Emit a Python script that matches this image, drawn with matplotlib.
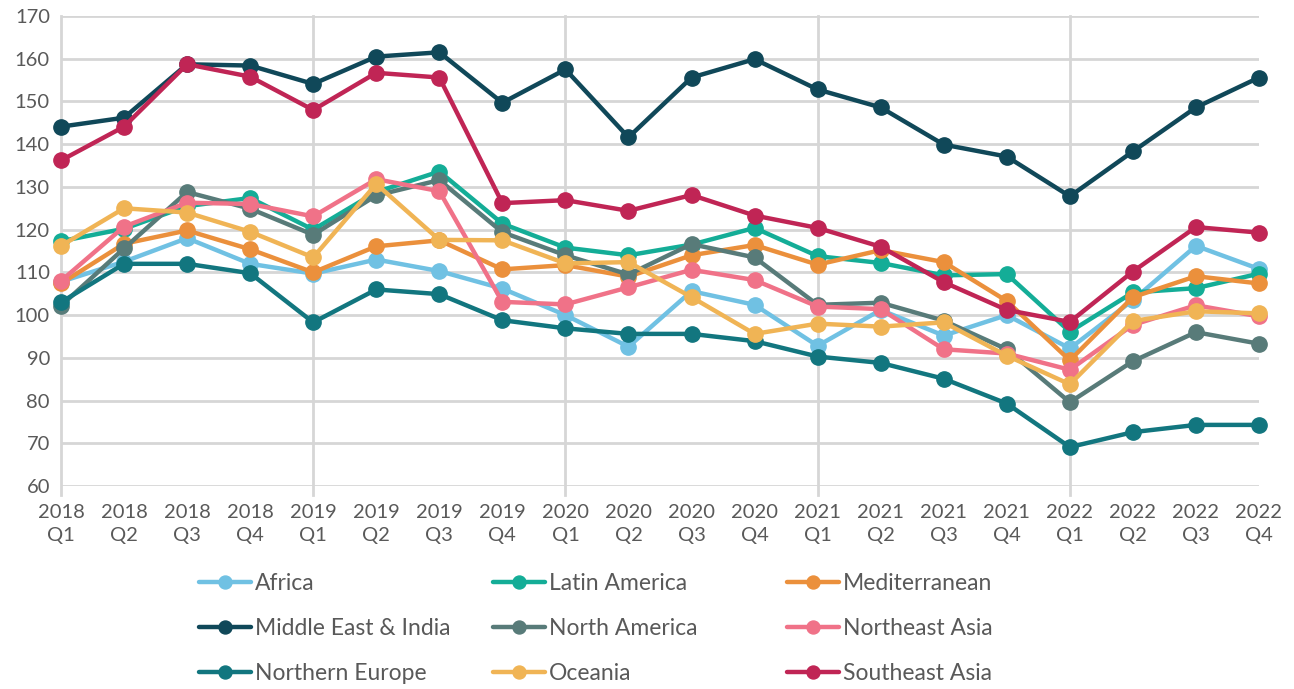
import matplotlib
matplotlib.use("Agg")
import matplotlib.pyplot as plt
import numpy as np

plt.rcParams['font.family'] = ['Lato', 'DejaVu Sans']

quarters = ['2018\nQ1', '2018\nQ2', '2018\nQ3', '2018\nQ4',
            '2019\nQ1', '2019\nQ2', '2019\nQ3', '2019\nQ4',
            '2020\nQ1', '2020\nQ2', '2020\nQ3', '2020\nQ4',
            '2021\nQ1', '2021\nQ2', '2021\nQ3', '2021\nQ4',
            '2022\nQ1', '2022\nQ2', '2022\nQ3', '2022\nQ4']

africa = [107.8, 112.5, 118.0, 112.0, 109.7, 113.0, 110.3, 106.2, 100.0, 92.6,
          105.6, 102.4, 92.8, 101.2, 95.2, 100.0, 92.2, 103.5, 116.2, 110.8]
latin_america = [117.3, 120.2, 125.5, 127.4, 120.0, 128.8, 133.6, 121.4, 115.8, 114.0,
                 116.5, 120.4, 113.8, 112.2, 109.3, 109.6, 96.1, 105.3, 106.3, 109.7]
mediterranean = [107.4, 116.7, 119.8, 115.4, 110.0, 116.1, 117.5, 110.7, 111.7, 109.0,
                 114.0, 116.4, 111.8, 115.2, 112.4, 103.3, 89.4, 104.2, 109.1, 107.4]
middle_east = [144.1, 146.2, 158.7, 158.4, 154.1, 160.5, 161.5, 149.7, 157.5, 141.6,
               155.6, 159.9, 152.8, 148.6, 139.9, 137.1, 127.8, 138.3, 148.6, 155.6]
north_america = [102.2, 115.6, 128.8, 124.9, 118.8, 128.0, 131.6, 119.4, 114.0, 109.5,
                 116.6, 113.5, 102.4, 102.9, 98.7, 92.0, 79.6, 89.2, 96.0, 93.3]
northeast_asia = [108.0, 120.7, 126.3, 126.0, 123.1, 131.8, 129.0, 103.1, 102.5, 106.5,
                  110.6, 108.2, 102.0, 101.4, 92.0, 91.0, 87.2, 97.7, 102.3, 99.7]
northern_europe = [103.0, 112.0, 112.0, 109.8, 98.3, 106.0, 104.9, 98.8, 96.9, 95.6,
                   95.6, 93.9, 90.3, 88.8, 85.1, 79.3, 69.1, 72.6, 74.3, 74.3]
oceania = [116.2, 125.0, 124.0, 119.5, 113.5, 130.7, 117.6, 117.5, 112.1, 112.4,
           104.2, 95.6, 98.0, 97.3, 98.3, 90.5, 83.8, 98.6, 100.9, 100.4]
southeast_asia = [136.2, 144.1, 158.7, 155.8, 148.0, 156.7, 155.6, 126.2, 126.9, 124.4,
                  128.1, 123.3, 120.4, 116.0, 107.7, 101.2, 98.4, 110.2, 120.6, 119.3]

series = [
    ('Africa', africa, '#70c1e3'),
    ('Latin America', latin_america, '#14ad97'),
    ('Mediterranean', mediterranean, '#eb903c'),
    ('Middle East & India', middle_east, '#104859'),
    ('North America', north_america, '#587b79'),
    ('Northeast Asia', northeast_asia, '#f07288'),
    ('Northern Europe', northern_europe, '#12767f'),
    ('Oceania', oceania, '#f0b455'),
    ('Southeast Asia', southeast_asia, '#c02555'),
]

fig = plt.figure(figsize=(12.94, 6.89), dpi=100)
ax = fig.add_axes([61 / 1294, 1 - 486 / 689, 1198 / 1294, 470 / 689])

x = np.arange(len(quarters))
handles = {}
for name, vals, col in series:
    h, = ax.plot(x, vals, color=col, lw=3.2, marker='o', ms=11, label=name,
                 solid_capstyle='round', clip_on=False)
    handles[name] = h

ax.set_xlim(0, len(quarters) - 1)
ax.set_ylim(60, 170)
ax.set_yticks(np.arange(60, 171, 10))
ax.set_xticks(x)
ax.set_xticklabels(quarters)

grid_col = '#d6d6d6'
ax.grid(axis='y', color=grid_col, lw=2)
for xv in x[::4]:
    ax.axvline(xv, ymin=-0.02, ymax=1, color=grid_col, lw=2, clip_on=False, zorder=0.5)
ax.set_axisbelow(True)
for s in ax.spines.values():
    s.set_visible(False)
ax.tick_params(axis='both', which='major', length=0, labelsize=14.5, colors='#595959')
ax.tick_params(axis='x', pad=13)
ax.tick_params(axis='y', pad=8)
for lab in ax.get_xticklabels():
    lab.set_linespacing(1.45)

# three legend columns, placed one by one
columns = [['Africa', 'Middle East & India', 'Northern Europe'],
           ['Latin America', 'North America', 'Oceania'],
           ['Mediterranean', 'Northeast Asia', 'Southeast Asia']]
col_x = [178, 472, 766]
for names, cx in zip(columns, col_x):
    leg = fig.legend([handles[n] for n in names], names, ncol=1,
                     loc='upper left', bbox_to_anchor=(cx / 1294, 1 - 552 / 689),
                     frameon=False, fontsize=16.5, handlelength=2.3, handletextpad=0.15,
                     labelspacing=1.05, markerscale=0.85, borderpad=0.4)
    for t in leg.get_texts():
        t.set_color('#595959')

fig.savefig('out.png', dpi=100)
